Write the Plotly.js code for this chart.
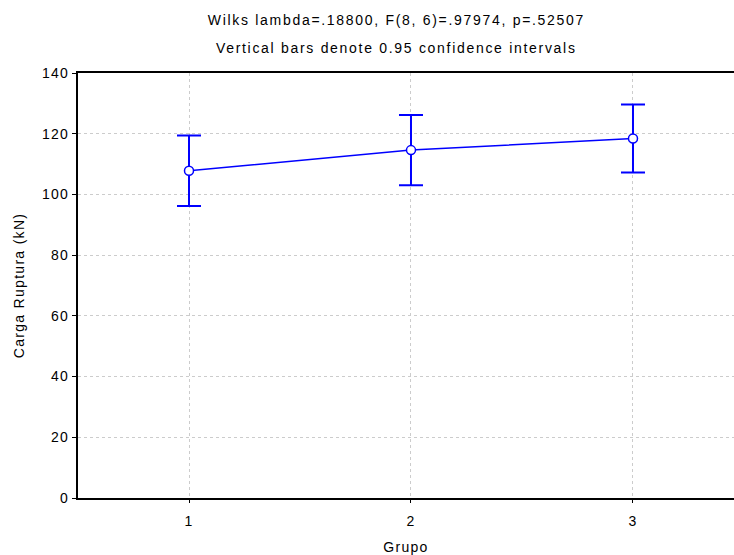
<!DOCTYPE html>
<html>
<head>
<meta charset="utf-8">
<script src="https://cdn.plot.ly/plotly-3.0.1.min.js"></script>
<style>
html,body{margin:0;padding:0;background:#fff;}
#chart{width:734px;height:555px;}
#chart svg text{letter-spacing:1.3px;}
#chart svg .annotation-text{letter-spacing:1.7px;}
</style>
</head>
<body>
<div id="chart"></div>
<script>
const groups = [1, 2, 3];
const means = [107.8, 114.6, 118.4];
const ciHalf = [11.6, 11.6, 11.2];
const yTicks = [0, 20, 40, 60, 80, 100, 120, 140];
const titleLine1 = "Wilks lambda=.18800, F(8, 6)=.97974, p=.52507";
const titleLine2 = "Vertical bars denote 0.95 confidence intervals";

const font = {family: "Liberation Sans, Arial, sans-serif", size: 14, color: "#000"};

const trace = {
  x: groups, y: means, type: "scatter", mode: "lines+markers",
  line: {color: "#0000ff", width: 1.5},
  marker: {symbol: "circle", size: 9, color: "#ffffff", line: {color: "#0000ff", width: 1.5}},
  error_y: {type: "data", array: ciHalf, visible: true, color: "#0000ff", thickness: 2, width: 12},
  hoverinfo: "skip", showlegend: false
};

const layout = {
  width: 734, height: 555,
  margin: {l: 78, r: 0, t: 73, b: 57},
  paper_bgcolor: "#fff", plot_bgcolor: "#fff",
  font: font,
  showlegend: false,
  xaxis: {
    range: [0.5, 3.455], tickvals: groups, ticktext: groups.map(String),
    showline: true, linecolor: "#000", linewidth: 2, mirror: true,
    ticks: "outside", ticklen: 3, tickcolor: "#000", tickwidth: 1,
    ticklabelstandoff: 6,
    showgrid: true, gridcolor: "#cccccc", griddash: "dot", gridwidth: 1,
    zeroline: false, tickfont: font,
    title: {text: "Grupo", font: font, standoff: 14}
  },
  yaxis: {
    range: [0, 140], tickvals: yTicks,
    showline: true, linecolor: "#000", linewidth: 2,
    ticks: "outside", ticklen: 4, tickcolor: "#000", tickwidth: 1,
    showgrid: true, gridcolor: "#cccccc", griddash: "dot", gridwidth: 1,
    zeroline: false, tickfont: font,
    title: {text: "Carga Ruptura (kN)", font: font, standoff: 18}
  },
  annotations: [
    {text: titleLine1, xref: "paper", yref: "paper", x: 0.485, y: 1, yshift: 53, showarrow: false, font: font, xanchor: "center", yanchor: "middle"},
    {text: titleLine2, xref: "paper", yref: "paper", x: 0.485, y: 1, yshift: 25, showarrow: false, font: font, xanchor: "center", yanchor: "middle"}
  ]
};

Plotly.newPlot("chart", [trace], layout, {staticPlot: true, displayModeBar: false});
</script>
</body>
</html>
